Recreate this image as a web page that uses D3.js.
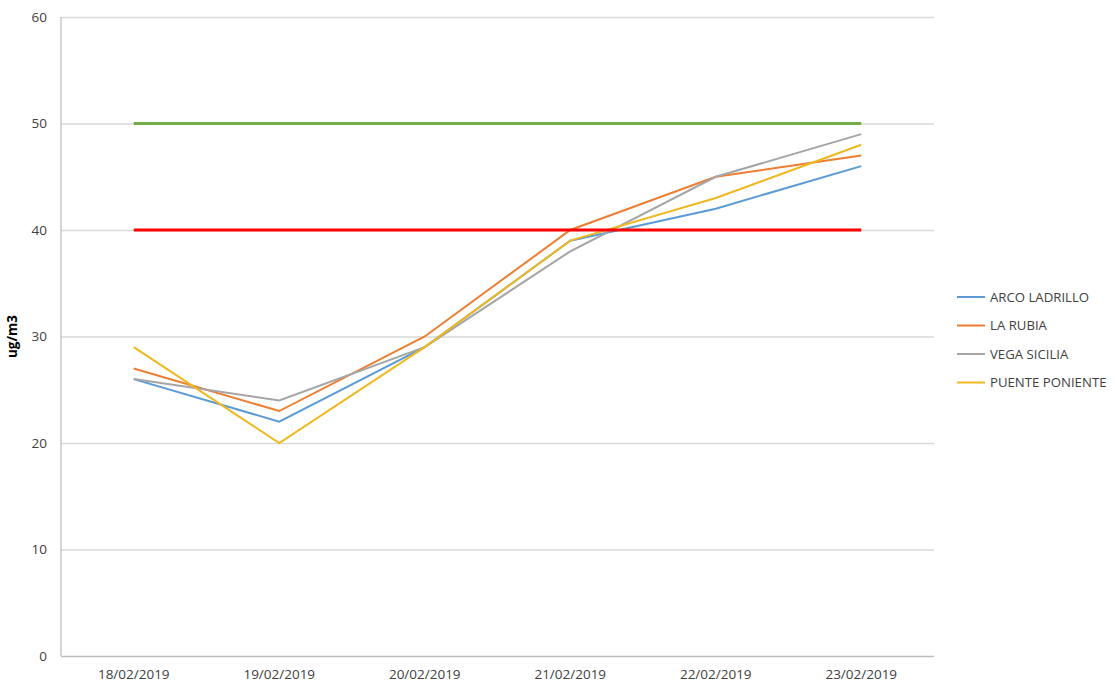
<!DOCTYPE html>
<html>
<head>
<meta charset="utf-8">
<script src="https://cdn.jsdelivr.net/npm/d3@7"></script>
<style>
	body { margin: 0; background: #fff; }
	text { font-family: "Open Sans", "Noto Sans", sans-serif; fill: #404040; }
</style>
</head>
<body>
<script>
const dates = ["18/02/2019", "19/02/2019", "20/02/2019", "21/02/2019", "22/02/2019", "23/02/2019"];
const arcoLadrillo = [26, 22, 29, 39, 42, 46];
const laRubia = [27, 23, 30, 40, 45, 47];
const vegaSicilia = [26, 24, 29, 38, 45, 49];
const puentePoniente = [29, 20, 29, 39, 43, 48];
const limit50 = [50, 50, 50, 50, 50, 50];
const limit40 = [40, 40, 40, 40, 40, 40];
const yTicks = [0, 10, 20, 30, 40, 50, 60];

const series = [
	{ name: "ARCO LADRILLO", values: arcoLadrillo, color: "#5B9BD5" },
	{ name: "LA RUBIA", values: laRubia, color: "#ED7D31" },
	{ name: "VEGA SICILIA", values: vegaSicilia, color: "#A5A5A5" },
	{ name: "PUENTE PONIENTE", values: puentePoniente, color: "#F0B820" }
];
const limits = [
	{ values: limit50, color: "#70AD47" },
	{ values: limit40, color: "#FF0000" }
];

const WIDTH = 1116;
const HEIGHT = 688;
const MARGINS = { top: 17, right: 182, bottom: 32, left: 61 };

const svg = d3.select("body")
	.append("svg")
	.attr("width", WIDTH)
	.attr("height", HEIGHT);

// ---- X -------------------------
const xScale = d3.scaleBand()
	.domain(dates)
	.range([MARGINS.left, WIDTH - MARGINS.right]);

// ---- Y -------------------------
const yScale = d3.scaleLinear()
	.domain([0, 60])
	.range([HEIGHT - MARGINS.bottom, MARGINS.top]);

const cx = d => xScale(d) + xScale.bandwidth() / 2;

// gridlines + y labels
const yAxis = svg.append("g")
	.attr("transform", `translate(${MARGINS.left},0)`)
	.call(d3.axisLeft(yScale).tickValues(yTicks).tickSize(-(WIDTH - MARGINS.left - MARGINS.right)).tickPadding(14));
yAxis.select(".domain").remove();
yAxis.selectAll(".tick line").attr("stroke", "#D9D9D9").attr("stroke-width", 1.3);
yAxis.selectAll(".tick text").attr("font-size", 13.5).style("fill", "#404040");
yAxis.selectAll(".tick")
	.filter(d => d === 0)
	.select("line")
	.attr("stroke", "#BFBFBF");

// left axis line
svg.append("line")
	.attr("x1", MARGINS.left).attr("x2", MARGINS.left)
	.attr("y1", yScale(60)).attr("y2", yScale(0))
	.attr("stroke", "#BFBFBF").attr("stroke-width", 1.3);

// x labels
const xAxis = svg.append("g")
	.attr("transform", `translate(0,${HEIGHT - MARGINS.bottom})`)
	.call(d3.axisBottom(xScale).tickSize(0).tickPadding(13));
xAxis.select(".domain").remove();
xAxis.selectAll(".tick text").attr("font-size", 13.5).style("fill", "#404040");

// y axis title
svg.append("text")
	.attr("transform", `translate(17,${(yScale(0) + yScale(60)) / 2}) rotate(-90)`)
	.attr("text-anchor", "middle")
	.attr("font-size", 13.5)
	.attr("font-weight", "bold")
	.style("fill", "#000")
	.text("ug/m3");

const line = d3.line()
	.x((d, i) => cx(dates[i]))
	.y(d => yScale(d));

svg.append("g")
	.selectAll("path")
	.data(series)
	.join("path")
	.attr("d", d => line(d.values))
	.attr("fill", "none")
	.attr("stroke", d => d.color)
	.attr("stroke-width", 2);

svg.append("g")
	.selectAll("path")
	.data(limits)
	.join("path")
	.attr("d", d => line(d.values))
	.attr("fill", "none")
	.attr("stroke", d => d.color)
	.attr("stroke-width", 3);

// legend
const legend = svg.append("g")
	.attr("transform", "translate(957,297)");
const item = legend.selectAll("g")
	.data(series)
	.join("g")
	.attr("transform", (d, i) => `translate(0,${i * 28.5})`);
item.append("line")
	.attr("x1", 0).attr("x2", 28)
	.attr("stroke", d => d.color)
	.attr("stroke-width", 2);
item.append("text")
	.attr("x", 33)
	.attr("dy", "0.35em")
	.attr("font-size", 13.2)
	.style("fill", "#404040")
	.text(d => d.name);
</script>
</body>
</html>
